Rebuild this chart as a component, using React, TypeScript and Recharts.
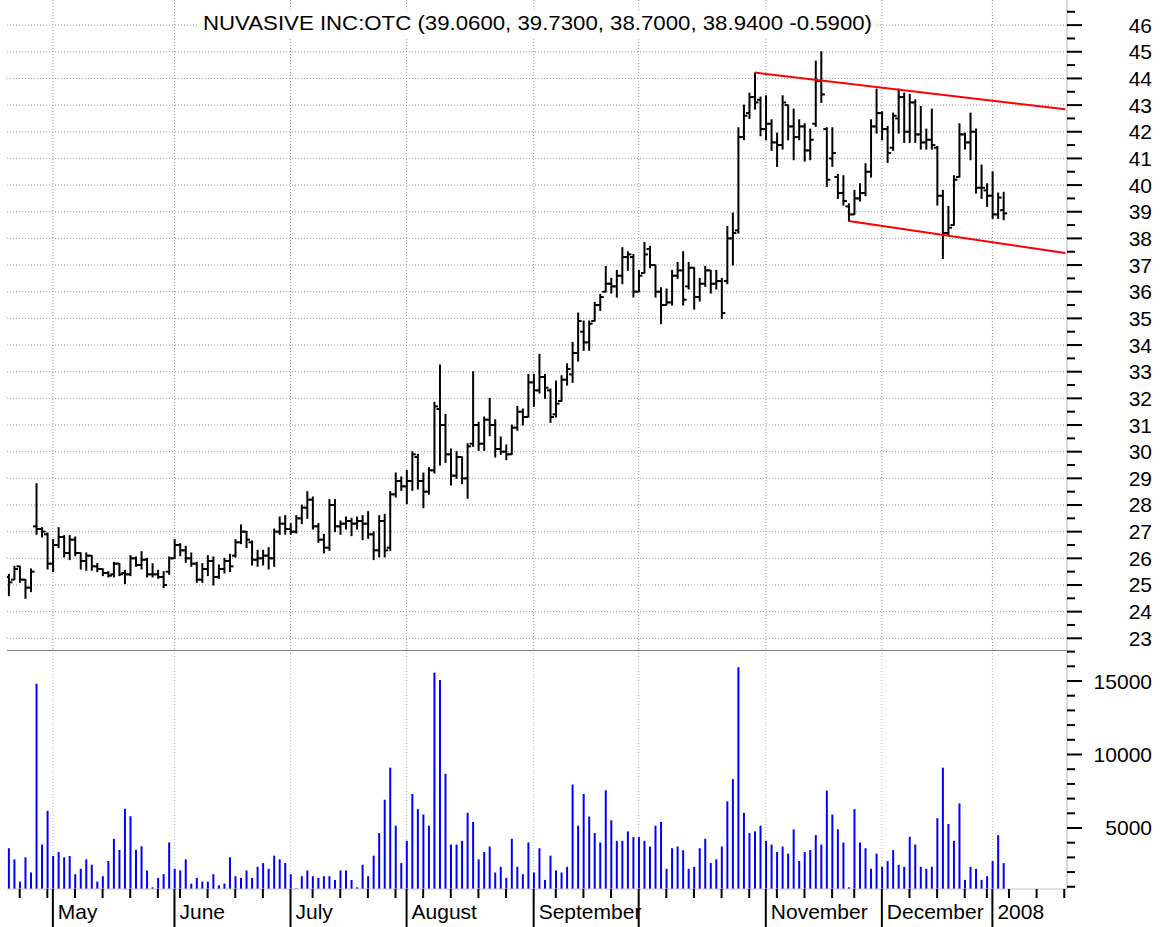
import React from 'react';
import { ComposedChart, Bar, XAxis, YAxis, CartesianGrid, ReferenceLine } from 'recharts';

// ---- Data (trading days from 19 Apr 2007 to 4 Jan 2008) ----
const opens = [
  25.3, 25.2, 25.7, 25.2, 24.9, 27.2, 27.1, 26.9, 25.8, 26.5,
  26.8, 26.2, 26.7, 26.2, 25.9, 26.1, 25.7, 25.6, 25.45, 25.4,
  25.8, 25.45, 25.4, 26.0, 25.75, 25.95, 25.4, 25.4, 25.3, 25.5,
  26.0, 26.5, 26.3, 26.0, 25.8, 25.2, 25.6, 25.9, 25.3, 25.6,
  25.9, 26.1, 26.6, 27.0, 26.6, 25.95, 26.0, 26.1, 26.0, 27.0,
  27.3, 27.1, 27.0, 27.5, 27.9, 28.2, 27.2, 26.7, 26.4, 28.0,
  27.2, 27.3, 27.4, 27.3, 27.4, 27.3, 26.9, 26.3, 27.4, 26.4,
  28.4, 28.9, 28.7, 28.9, 29.8, 28.9, 28.5, 29.3, 31.6, 31.0,
  29.9, 29.1, 29.8, 29.0, 30.3, 31.0, 30.3, 31.2, 31.0, 30.1,
  30.0, 29.9, 30.9, 31.5, 31.3, 32.6, 32.3, 32.8, 32.3, 31.4,
  31.9, 32.7, 32.9, 33.7, 34.5, 34.1, 34.9, 35.5, 36.0, 36.3,
  36.2, 36.6, 37.3, 37.3, 36.0, 36.7, 37.6, 37.0, 36.0, 35.5,
  35.6, 36.6, 36.8, 36.2, 36.9, 35.8, 36.3, 36.8, 36.3, 36.4,
  36.4, 38.0, 38.3, 41.8, 42.7, 43.3, 43.2, 42.1, 42.3, 41.6,
  41.5, 43.0, 42.2, 41.8, 42.2, 41.3, 42.3, 43.9, 42.1, 41.0,
  40.3, 39.7, 39.2, 38.9, 39.5, 39.7, 40.5, 42.2, 42.7, 42.1,
  41.4, 42.5, 43.3, 42.0, 43.1, 41.9, 41.6, 41.7, 41.4, 39.6,
  38.2, 38.5, 40.3, 41.9, 41.6, 42.0, 39.9, 39.8, 39.6, 38.9,
  39.06,
];
const highs = [
  25.4, 25.7, 25.7, 25.2, 25.6, 28.8, 27.15, 26.95, 26.7, 27.15,
  26.85, 26.85, 26.8, 26.2, 26.2, 26.1, 25.8, 25.6, 25.5, 25.85,
  25.8, 25.55, 26.1, 26.05, 26.25, 26.0, 25.8, 25.55, 25.5, 26.05,
  26.7, 26.55, 26.45, 26.2, 25.85, 25.8, 26.1, 26.05, 25.75, 26.0,
  26.15, 26.7, 27.25, 27.0, 26.65, 26.3, 26.3, 26.4, 27.1, 27.55,
  27.6, 27.3, 27.6, 28.0, 28.5, 28.3, 27.3, 26.9, 28.2, 28.2,
  27.4, 27.55, 27.5, 27.55, 27.6, 27.75, 27.0, 27.6, 27.65, 28.5,
  29.2, 29.05, 29.3, 30.0, 29.9, 29.2, 29.4, 31.85, 33.25, 31.4,
  30.1, 30.0, 29.8, 30.3, 33.0, 31.1, 31.3, 32.0, 31.2, 30.55,
  30.25, 31.0, 31.7, 31.6, 32.9, 32.9, 33.65, 32.9, 32.35, 32.65,
  32.85, 33.3, 34.1, 35.2, 34.9, 34.9, 35.6, 35.9, 36.95, 36.5,
  36.8, 37.65, 37.5, 37.4, 36.8, 37.85, 37.7, 37.0, 36.15, 36.1,
  36.8, 37.1, 37.5, 37.1, 36.9, 36.5, 36.95, 36.8, 36.8, 36.5,
  38.45, 38.95, 42.15, 43.0, 43.45, 44.2, 43.3, 43.35, 42.45, 41.95,
  43.35, 43.0, 42.85, 42.45, 42.3, 42.1, 44.65, 45.0, 42.15, 42.15,
  40.4, 40.35, 39.3, 39.8, 40.05, 40.8, 42.45, 43.6, 42.75, 42.2,
  42.7, 43.6, 43.45, 43.4, 43.2, 42.95, 42.1, 42.85, 41.45, 39.8,
  39.2, 40.35, 42.3, 41.95, 42.7, 42.1, 40.75, 40.05, 40.5, 39.7,
  39.73,
];
const lows = [
  24.6, 25.2, 25.1, 24.5, 24.75, 26.9, 26.8, 25.6, 25.5, 26.4,
  26.05, 25.95, 26.1, 25.6, 25.55, 25.55, 25.5, 25.35, 25.3, 25.3,
  25.35, 25.05, 25.35, 25.7, 25.6, 25.3, 25.3, 25.25, 24.9, 25.4,
  26.0, 26.1, 25.85, 25.7, 25.1, 25.1, 25.35, 25.0, 25.25, 25.45,
  25.5, 26.05, 26.55, 26.4, 25.75, 25.7, 25.75, 25.6, 25.7, 26.9,
  26.9, 26.9, 26.95, 27.3, 27.5, 27.1, 26.6, 26.2, 26.3, 27.0,
  26.9, 27.1, 26.85, 27.1, 26.7, 26.75, 25.95, 26.05, 26.05, 26.3,
  28.3, 28.55, 28.05, 28.55, 28.6, 27.9, 28.4, 29.2, 29.5, 29.6,
  28.75, 29.0, 28.8, 28.25, 30.2, 30.05, 30.05, 30.6, 29.8, 29.9,
  29.7, 29.9, 30.8, 31.0, 31.3, 31.7, 32.2, 32.0, 31.1, 31.3,
  31.9, 32.5, 32.6, 33.4, 33.8, 33.8, 34.9, 35.3, 36.0, 35.95,
  35.8, 36.3, 36.8, 35.8, 36.0, 36.7, 36.9, 35.8, 34.8, 35.5,
  35.5, 36.5, 35.5, 36.1, 35.35, 35.65, 36.2, 35.95, 36.1, 35.0,
  36.3, 37.0, 38.2, 41.7, 42.5, 42.85, 41.85, 41.7, 41.3, 40.7,
  41.35, 41.7, 40.95, 41.7, 40.9, 40.95, 42.2, 43.1, 39.95, 40.7,
  39.5, 39.25, 38.65, 38.9, 39.4, 39.6, 40.3, 41.95, 41.7, 40.85,
  41.3, 41.95, 41.6, 41.6, 41.6, 41.35, 41.35, 41.35, 39.25, 37.25,
  38.1, 38.5, 40.3, 41.35, 40.95, 39.7, 39.5, 39.2, 38.75, 38.75,
  38.7,
];
const closes = [
  25.1, 25.6, 25.2, 24.9, 25.5, 27.1, 27.0, 25.8, 26.5, 26.8,
  26.2, 26.7, 26.2, 25.9, 26.1, 25.7, 25.6, 25.45, 25.35, 25.8,
  25.4, 25.4, 26.0, 25.75, 25.95, 25.4, 25.4, 25.3, 25.0, 26.0,
  26.5, 26.3, 26.0, 25.8, 25.2, 25.6, 25.9, 25.3, 25.6, 25.9,
  25.7, 26.6, 27.0, 26.7, 25.95, 26.0, 26.1, 26.0, 27.0, 27.3,
  27.1, 27.0, 27.5, 27.9, 28.2, 27.2, 26.7, 26.4, 28.0, 27.2,
  27.3, 27.4, 27.3, 27.4, 27.3, 26.9, 26.3, 27.4, 26.3, 28.4,
  28.9, 28.7, 28.9, 29.9, 28.9, 28.5, 29.3, 31.7, 31.0, 29.9,
  29.1, 29.8, 29.0, 30.2, 31.0, 30.3, 31.2, 31.0, 30.1, 30.0,
  29.9, 30.9, 31.5, 31.3, 32.6, 32.3, 32.8, 32.4, 31.3, 31.8,
  32.7, 33.1, 33.7, 34.9, 34.1, 34.8, 35.5, 35.8, 36.3, 36.2,
  36.6, 37.3, 37.4, 36.0, 36.6, 37.4, 37.0, 36.0, 35.5, 35.6,
  36.6, 36.8, 35.7, 36.9, 35.8, 36.3, 36.8, 36.3, 36.4, 35.2,
  38.0, 38.2, 41.8, 42.6, 43.3, 43.1, 42.1, 42.3, 41.6, 41.5,
  43.1, 42.2, 41.8, 42.2, 41.3, 41.7, 43.9, 43.4, 40.2, 41.2,
  39.7, 39.4, 38.9, 39.5, 39.7, 40.5, 42.2, 42.7, 42.1, 41.2,
  42.6, 43.3, 42.0, 43.1, 41.9, 41.6, 41.7, 41.5, 39.6, 38.2,
  38.4, 40.2, 41.9, 41.6, 42.0, 39.9, 39.9, 39.6, 38.9, 39.53,
  38.94,
];
const volumes = [
  3623, 2866, 1353, 3004, 1972, 14813, 3875, 6168, 3096, 3371,
  3004, 3096, 1857, 2224, 2866, 2499, 1353, 1720, 2752, 4265,
  3508, 6306, 5801, 3508, 3761, 2110, 963, 1605, 1857, 4013,
  2224, 2110, 2866, 1215, 1605, 1353, 1353, 1857, 1101, 1215,
  3004, 1720, 1605, 2110, 1605, 2362, 2614, 2224, 3118, 2866,
  2614, 1857, 900, 1720, 2110, 1720, 1605, 1720, 1720, 1468,
  2110, 2110, 1468, 963, 2499, 1720, 3118, 4655, 6925, 9103,
  5159, 2614, 4127, 7315, 6283, 5916, 5159, 15570, 15065, 8691,
  3875, 3875, 4127, 6031, 5411, 2866, 3371, 3738, 1972, 2362,
  1605, 4265, 2362, 1857, 4013, 1972, 3623, 1468, 3118, 2110,
  1972, 2362, 7957, 5159, 7315, 5778, 4655, 4013, 7567, 5526,
  4127, 4127, 4769, 4380, 4380, 4127, 3738, 5159, 5411, 2224,
  3623, 3738, 3485, 2224, 2362, 3623, 4265, 2614, 2866, 3738,
  6810, 8324, 15937, 6031, 4655, 4769, 5159, 4127, 3875, 3371,
  3738, 3256, 4907, 2752, 3371, 3508, 4517, 3875, 7544, 5916,
  4907, 4013, 963, 6283, 4013, 3623, 2224, 3256, 2362, 2752,
  3508, 2499, 2362, 4403, 3875, 2362, 2224, 2362, 5664, 9103,
  5274, 4127, 6673, 1468, 2362, 2224, 1468, 1720, 2752, 4517,
  2614,
];

// Axis ticks (trading-day indices)
const monthTickIdx = [8, 30, 51, 72, 95, 114, 137, 158, 178];
const monthLabels = ['May', 'June', 'July', 'August', 'September', '', 'November', 'December', '2008'];
const weekTickIdx = [2, 7, 12, 17, 22, 27, 31, 36, 41, 46, 55, 60, 65, 70, 75, 80, 85, 90, 99, 104, 109,
  119, 124, 129, 134, 139, 144, 149, 153, 163, 168, 173, 177, 181, 186, 191];
const priceLabels = [23, 24, 25, 26, 27, 28, 29, 30, 31, 32, 33, 34, 35, 36, 37, 38, 39, 40, 41, 42, 43, 44, 45, 46];
const volumeLabels = [5000, 10000, 15000];
const volumeMinor = [1000, 2000, 3000, 4000, 6000, 7000, 8000, 9000, 11000, 12000, 13000, 14000, 16000, 17000];

// Channel lines (start/end points in data units)
const upperChannel = [{ x: 135, y: 44.22 }, { x: 191.2, y: 42.84 }];
const lowerChannel = [{ x: 152, y: 38.65 }, { x: 191.2, y: 37.45 }];

const title = 'NUVASIVE INC:OTC (39.0600, 39.7300, 38.7000, 38.9400 -0.5900)';

const priceData = opens.map((o, i) => ({ i, o, h: highs[i], l: lows[i], c: closes[i], range: [lows[i], highs[i]] }));
const volumeData = volumes.map((v, i) => ({ i, v }));

const X_DOMAIN: [number, number] = [-0.3, 191.5];
const PRICE_DOMAIN: [number, number] = [22.561, 46.942];
const VOL_DOMAIN: [number, number] = [850, 17109];
const FONT = '"Liberation Sans", Arial, Helvetica, sans-serif';

const priceTicks = [...priceLabels, ...priceLabels.map((v) => v + 0.5)].sort((a, b) => a - b);
const volTicks = [...volumeMinor, ...volumeLabels].sort((a, b) => a - b);
const dateTicks = [...weekTickIdx, ...monthTickIdx].sort((a, b) => a - b);

const OhlcShape = (props: any) => {
  const { x, y, width, height, payload } = props;
  if (x == null || y == null || !payload) return null;
  const top = Math.min(y, y + height);
  const bot = Math.max(y, y + height);
  const cx = x + width / 2;
  const span = payload.h - payload.l || 1;
  const yO = top + ((payload.h - payload.o) / span) * (bot - top);
  const yC = top + ((payload.h - payload.c) / span) * (bot - top);
  return (
    <g>
      <line x1={cx} x2={cx} y1={top - 0.5} y2={bot + 0.5} stroke="#000" strokeWidth={2} />
      <line x1={cx - 3.5} x2={cx} y1={yO} y2={yO} stroke="#000" strokeWidth={2} />
      <line x1={cx} x2={cx + 3.5} y1={yC} y2={yC} stroke="#000" strokeWidth={2} />
    </g>
  );
};

const PriceTick = (props: any) => {
  const { x, y, payload } = props;
  const v = payload.value;
  const major = Number.isInteger(v);
  return (
    <g>
      <line x1={x} x2={x + (major ? 15 : 8)} y1={y} y2={y} stroke="#000" strokeWidth={2} />
      {major && (
        <text x={x + 85} y={y} dy={7.5} textAnchor="end" fontSize={21} fontFamily={FONT} fill="#000">
          {v}
        </text>
      )}
    </g>
  );
};

const VolTick = (props: any) => {
  const { x, y, payload } = props;
  const v = payload.value;
  const major = volumeLabels.indexOf(v) >= 0;
  return (
    <g>
      <line x1={x} x2={x + (major ? 15 : 8)} y1={y} y2={y} stroke="#000" strokeWidth={2} />
      {major && (
        <text x={x + 85} y={y} dy={7.5} textAnchor="end" fontSize={21} fontFamily={FONT} fill="#000">
          {v}
        </text>
      )}
    </g>
  );
};

const DateTick = (props: any) => {
  const { x, y, payload } = props;
  const v = payload.value;
  const mi = monthTickIdx.indexOf(v);
  if (mi >= 0) {
    return (
      <g>
        <line x1={x} x2={x} y1={y} y2={y + 40} stroke="#000" strokeWidth={2} />
        {monthLabels[mi] && (
          <text x={x + 5} y={y + 30} fontSize={21} fontFamily={FONT} fill="#000">
            {monthLabels[mi]}
          </text>
        )}
      </g>
    );
  }
  return <line x1={x} x2={x} y1={y} y2={y + 9} stroke="#000" strokeWidth={2} />;
};

export default function App() {
  return (
    <div style={{ position: 'absolute', left: 0, top: 0, width: 1166, height: 927, background: '#fff', overflow: 'hidden' }}>
      <div style={{ position: 'absolute', left: 0, top: 0 }}>
        <ComposedChart width={1166} height={650} data={priceData} margin={{ top: 0, right: 0, bottom: 0, left: 7 }}>
          <CartesianGrid
            stroke="#9a9a9a"
            strokeDasharray="1 2"
            horizontalValues={priceLabels}
            verticalValues={monthTickIdx}
          />
          <XAxis type="number" dataKey="i" domain={X_DOMAIN} allowDataOverflow hide />
          <YAxis
            orientation="right"
            type="number"
            domain={PRICE_DOMAIN}
            allowDataOverflow
            ticks={priceTicks}
            interval={0}
            width={99}
            tickSize={0}
            tickMargin={0}
            tickLine={false}
            axisLine={{ stroke: '#b0b0b0' }}
            tick={<PriceTick />}
          />
          <Bar dataKey="range" barSize={4} shape={<OhlcShape />} isAnimationActive={false} />
          <ReferenceLine segment={upperChannel} stroke="#ff0000" strokeWidth={2} />
          <ReferenceLine segment={lowerChannel} stroke="#ff0000" strokeWidth={2} />
        </ComposedChart>
      </div>
      <div style={{ position: 'absolute', left: 0, top: 650 }}>
        <ComposedChart width={1166} height={277} data={volumeData} margin={{ top: 0, right: 0, bottom: 0, left: 7 }}>
          <CartesianGrid stroke="#b8b8b8" strokeDasharray="1 2" horizontal={false} verticalValues={monthTickIdx} />
          <XAxis
            type="number"
            dataKey="i"
            domain={X_DOMAIN}
            allowDataOverflow
            ticks={dateTicks}
            interval={0}
            height={38}
            tickSize={0}
            tickMargin={0}
            tickLine={false}
            axisLine={{ stroke: '#c4c4c4' }}
            tick={<DateTick />}
          />
          <YAxis
            orientation="right"
            type="number"
            domain={VOL_DOMAIN}
            allowDataOverflow
            ticks={volTicks}
            interval={0}
            width={99}
            tickSize={0}
            tickMargin={0}
            tickLine={false}
            axisLine={{ stroke: '#b0b0b0' }}
            tick={<VolTick />}
          />
          <Bar dataKey="v" barSize={2} fill="#0000ff" isAnimationActive={false} />
          <ReferenceLine y={VOL_DOMAIN[1]} stroke="#555" strokeWidth={1.5} />
        </ComposedChart>
      </div>
      <svg style={{ position: 'absolute', left: 0, top: 0 }} width={1166} height={40}>
        <rect x={199} y={11} width={678} height={26} fill="#fff" />
        <text x={203} y={30} fontSize={21} fontFamily={FONT} fill="#000" textLength={669} lengthAdjust="spacingAndGlyphs">
          {title}
        </text>
      </svg>
    </div>
  );
}
